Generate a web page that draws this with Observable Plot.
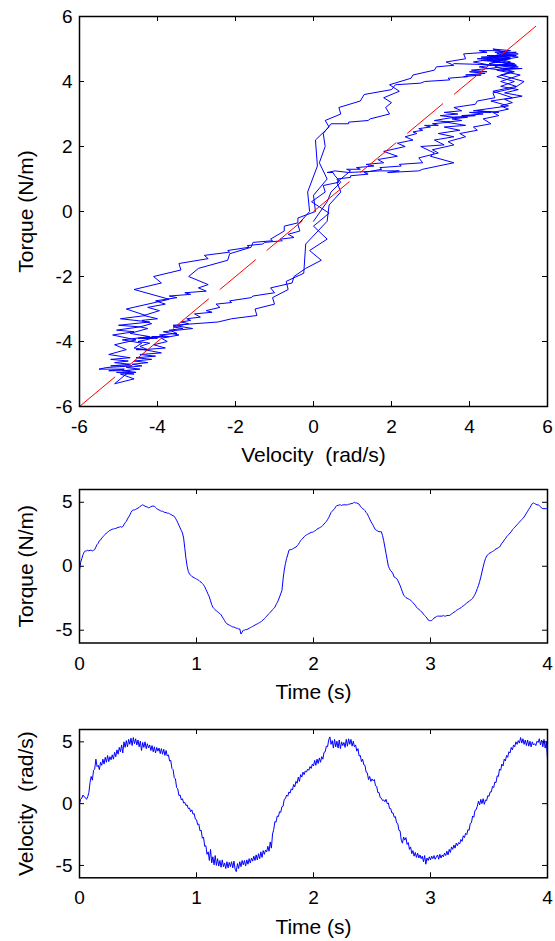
<!DOCTYPE html>
<html><head><meta charset="utf-8">
<script src="https://cdn.jsdelivr.net/npm/d3@7"></script>
<script src="https://cdn.jsdelivr.net/npm/@observablehq/plot@0.6"></script>
<style>
html,body{margin:0;padding:0;background:#fff;}
#chart{width:555px;}
#chart svg{display:block;}
</style></head><body><div id="chart"></div>
<script>
// Sampling step of the recorded series (s)
const timeStep = 0.01;

// Torque (N/m), one value every 0.01 s from 0 to 4 s
const torque = [
 -0.3, 0.3, 0.6, 0.9, 1.1, 1.2, 1.2, 1.25, 1.2, 1.25,
 1.25, 1.2, 1.25, 1.3, 1.5, 1.7, 1.8, 2.0, 2.05, 2.2,
 2.3, 2.4, 2.5, 2.6, 2.65, 2.75, 2.8, 2.85, 2.9, 2.9,
 2.95, 2.95, 3.0, 3.05, 3.05, 3.1, 3.05, 3.1, 3.25, 3.4,
 3.5, 3.7, 3.85, 4.0, 4.2, 4.35, 4.4, 4.4, 4.45, 4.5,
 4.55, 4.6, 4.7, 4.75, 4.8, 4.75, 4.7, 4.65, 4.65, 4.55,
 4.6, 4.65, 4.7, 4.7, 4.7, 4.6, 4.5, 4.45, 4.4, 4.35,
 4.3, 4.3, 4.25, 4.2, 4.2, 4.15, 4.15, 4.1, 4.05, 4.0,
 3.95, 3.9, 3.75, 3.6, 3.4, 3.2, 3.0, 2.8, 2.6, 2.2,
 1.4, 0.6, 0.0, -0.4, -0.6, -0.7, -0.8, -0.85, -0.9, -0.95,
 -1.0, -1.05, -1.1, -1.2, -1.25, -1.35, -1.45, -1.6, -1.8, -2.0,
 -2.2, -2.4, -2.7, -3.0, -3.2, -3.3, -3.4, -3.5, -3.55, -3.65,
 -3.7, -3.8, -3.95, -4.1, -4.25, -4.4, -4.5, -4.55, -4.6, -4.65,
 -4.7, -4.75, -4.75, -4.8, -4.85, -4.85, -4.9, -4.9, -5.3, -5.15,
 -5.0, -5.0, -4.95, -4.95, -4.9, -4.85, -4.8, -4.75, -4.7, -4.65,
 -4.6, -4.55, -4.5, -4.45, -4.4, -4.35, -4.25, -4.2, -4.1, -4.0,
 -3.9, -3.8, -3.7, -3.6, -3.5, -3.4, -3.3, -3.2, -3.0, -2.85,
 -2.65, -2.4, -2.15, -1.9, -1.0, -0.3, 0.2, 0.6, 0.9, 1.25,
 1.3, 1.3, 1.35, 1.4, 1.45, 1.5, 1.6, 1.7, 1.85, 2.0,
 2.1, 2.2, 2.3, 2.4, 2.45, 2.5, 2.55, 2.6, 2.65, 2.65,
 2.7, 2.75, 2.8, 2.9, 2.95, 3.0, 3.05, 3.1, 3.2, 3.3,
 3.4, 3.5, 3.65, 3.8, 4.0, 4.2, 4.3, 4.4, 4.5, 4.65,
 4.75, 4.75, 4.8, 4.8, 4.75, 4.8, 4.8, 4.8, 4.8, 4.8,
 4.85, 4.85, 4.9, 4.9, 4.95, 5.0, 4.95, 4.95, 4.9, 4.85,
 4.7, 4.6, 4.5, 4.45, 4.35, 4.2, 4.1, 3.9, 3.7, 3.5,
 3.35, 3.2, 3.0, 2.85, 2.8, 2.75, 2.7, 2.7, 2.7, 2.4,
 2.0, 1.5, 1.0, 0.5, 0.0, -0.2, -0.35, -0.45, -0.6, -0.85,
 -0.9, -0.95, -1.1, -1.3, -1.5, -1.75, -2.0, -2.25, -2.35, -2.45,
 -2.5, -2.55, -2.6, -2.65, -2.75, -2.85, -2.95, -3.05, -3.2, -3.3,
 -3.35, -3.45, -3.55, -3.6, -3.75, -3.85, -3.95, -4.05, -4.2, -4.25,
 -4.25, -4.25, -4.15, -4.05, -4.0, -3.95, -3.9, -3.9, -3.9, -3.9,
 -3.9, -3.85, -3.9, -3.9, -3.85, -3.85, -3.85, -3.8, -3.75, -3.65,
 -3.6, -3.55, -3.45, -3.4, -3.35, -3.3, -3.25, -3.15, -3.1, -3.05,
 -2.95, -2.85, -2.8, -2.75, -2.65, -2.6, -2.5, -2.35, -2.2, -2.0,
 -1.75, -1.5, -1.2, -0.85, -0.45, -0.05, 0.3, 0.6, 0.8, 0.9,
 1.0, 1.05, 1.1, 1.15, 1.2, 1.3, 1.35, 1.4, 1.45, 1.5,
 1.65, 1.8, 1.9, 2.05, 2.15, 2.3, 2.4, 2.5, 2.6, 2.7,
 2.85, 2.95, 3.05, 3.15, 3.25, 3.35, 3.45, 3.55, 3.65, 3.75,
 3.85, 4.0, 4.15, 4.3, 4.45, 4.6, 4.75, 4.9, 4.95, 4.9,
 4.85, 4.8, 4.8, 4.75, 4.65, 4.55, 4.5, 4.5, 4.5, 4.5,
 4.55
];

// Velocity (rad/s), one value every 0.01 s from 0 to 4 s (noisy measurement)
const velocity = [
 0.0, 0.35, 0.45, 0.7, 0.55, 0.5, 0.35, 0.55, 0.9, 1.7,
 2.2, 1.9, 2.7, 2.8, 3.6, 3.0, 3.1, 2.75, 3.35, 3.1,
 3.6, 3.2, 3.75, 3.35, 3.9, 3.4, 3.8, 3.55, 3.95, 3.6,
 4.15, 3.8, 4.35, 4.0, 4.55, 4.2, 4.75, 4.1, 5.0, 4.55,
 5.1, 4.6, 5.2, 4.8, 5.3, 4.7, 5.35, 4.85, 5.25, 4.75,
 5.15, 4.6, 5.05, 4.3, 4.95, 4.55, 5.0, 4.45, 4.85, 4.5,
 4.75, 4.3, 4.7, 4.2, 4.6, 4.1, 4.55, 4.25, 4.5, 4.05,
 4.45, 4.0, 4.4, 3.9, 4.3, 3.85, 3.95, 3.45, 3.5, 2.85,
 2.75, 2.1, 2.0, 1.3, 1.2, 0.65, 0.7, 0.3, 0.4, 0.05,
 0.1, -0.15, -0.1, -0.4, -0.35, -0.65, -0.5, -0.85, -0.8, -1.25,
 -1.3, -1.7, -1.65, -2.2, -2.15, -2.8, -2.7, -3.45, -3.4, -4.1,
 -3.9, -4.6, -3.7, -4.8, -4.3, -4.95, -4.2, -5.0, -4.45, -5.05,
 -4.6, -5.15, -4.55, -5.1, -4.8, -5.25, -4.7, -5.2, -4.75, -5.1,
 -4.7, -5.2, -4.65, -5.3, -5.5, -4.85, -5.25, -4.7, -5.1, -4.6,
 -4.95, -4.6, -5.05, -4.55, -4.9, -4.45, -4.8, -4.4, -4.65, -4.25,
 -4.6, -4.15, -4.55, -4.05, -4.45, -3.9, -4.35, -3.8, -4.1, -3.75,
 -3.9, -3.45, -3.85, -3.1, -3.6, -2.45, -2.1, -1.45, -1.5, -1.0,
 -1.05, -0.65, -0.7, -0.25, -0.2, 0.35, 0.4, 0.7, 0.6, 0.95,
 0.85, 1.2, 1.1, 1.55, 1.35, 1.8, 1.65, 2.15, 1.8, 2.35,
 2.15, 2.55, 2.35, 2.65, 2.55, 2.8, 2.7, 3.0, 2.85, 3.2,
 3.05, 3.5, 3.1, 3.6, 3.25, 3.7, 3.35, 3.8, 3.6, 4.15,
 4.2, 4.65, 4.6, 5.15, 5.4, 4.8, 5.1, 4.5, 5.2, 4.6,
 5.05, 4.5, 5.15, 4.45, 5.0, 4.7, 4.95, 4.55, 5.2, 4.65,
 5.25, 4.8, 5.2, 4.65, 5.05, 4.6, 4.75, 4.25, 4.45, 3.85,
 3.9, 3.4, 3.6, 3.15, 3.1, 2.55, 2.5, 1.95, 2.2, 1.8,
 2.0, 1.85, 1.95, 1.45, 1.4, 0.9, 0.9, 0.5, 0.45, 0.25,
 0.3, 0.15, 0.35, 0.0, 0.05, -0.4, -0.4, -0.75, -0.75, -1.1,
 -1.05, -1.55, -1.6, -2.15, -2.2, -2.95, -3.2, -2.7, -2.95, -2.75,
 -3.3, -3.15, -3.7, -3.5, -4.05, -3.8, -4.25, -3.95, -4.35, -4.0,
 -4.4, -4.15, -4.45, -4.25, -4.7, -4.2, -4.9, -4.4, -4.6, -4.3,
 -4.55, -4.25, -4.45, -4.2, -4.5, -4.3, -4.15, -4.5, -4.1, -4.4,
 -4.15, -4.3, -4.0, -4.2, -3.85, -4.15, -3.7, -3.95, -3.5, -3.7,
 -3.35, -3.6, -3.2, -3.4, -3.15, -3.25, -2.9, -3.05, -2.6, -2.75,
 -2.4, -2.5, -2.1, -2.15, -1.6, -1.55, -1.0, -1.1, -0.55, -0.5,
 -0.2, 0.2, -0.1, 0.35, 0.0, 0.4, -0.05, 0.3, 0.25, 0.65,
 0.6, 0.95, 0.95, 1.4, 1.3, 1.75, 1.7, 2.25, 2.2, 2.8,
 2.7, 3.2, 3.05, 3.6, 3.45, 3.9, 3.75, 4.2, 4.1, 4.55,
 4.35, 4.75, 4.6, 5.0, 4.8, 5.1, 4.9, 5.35, 4.9, 5.25,
 4.8, 5.15, 4.7, 5.15, 4.65, 5.05, 4.6, 5.0, 4.75, 4.85,
 4.7, 5.05, 4.95, 5.25, 4.75, 5.15, 4.6, 5.2, 4.5, 5.0,
 3.6
];

// Red dashed reference line (velocity, torque end points)
const fitVelocity = [-6, 5.7];
const fitTorque = [-6, 5.7];

// Axis ticks
const phaseTicks = [-6, -4, -2, 0, 2, 4, 6];
const timeTicks = [0, 1, 2, 3, 4];
const seriesTicks = [-5, 0, 5];

const time = torque.map((_, i) => +(i * timeStep).toFixed(2));
const idx = d3.range(torque.length);

const BLUE = "#0000ff", RED = "#ff0000";
const FONT = "'Liberation Sans', Arial, Helvetica, sans-serif";

function panel({height, mt, mb, xDomain, yDomain, xTicks, yTicks, xLabel, yLabel, marks}) {
  const W = 555, ml = 79, mr = 8;
  const iw = W - ml - mr, ih = height - mt - mb, tk = 5;
  return Plot.plot({
    width: W, height,
    marginLeft: ml, marginRight: mr, marginTop: mt, marginBottom: mb,
    style: {fontFamily: FONT, fontSize: "19px", color: "#000", background: "#fff", overflow: "visible"},
    x: {domain: xDomain},
    y: {domain: yDomain},
    marks: [
      ...marks,
      Plot.tickX(xTicks, {x: d => d, insetTop: ih - tk, stroke: "#000", strokeWidth: 1}),
      Plot.tickX(xTicks, {x: d => d, insetBottom: ih - tk, stroke: "#000", strokeWidth: 1}),
      Plot.tickY(yTicks, {y: d => d, insetRight: iw - tk, stroke: "#000", strokeWidth: 1}),
      Plot.tickY(yTicks, {y: d => d, insetLeft: iw - tk, stroke: "#000", strokeWidth: 1}),
      Plot.frame({stroke: "#000", strokeWidth: 1.5}),
      Plot.axisX(xTicks, {tickSize: 0, tickPadding: 13, label: null, fontSize: 19, tickFormat: d => String(d)}),
      Plot.axisY(yTicks, {tickSize: 0, tickPadding: 7, label: null, fontSize: 19, tickFormat: d => String(d)}),
      Plot.text([xLabel], {text: d => d, frameAnchor: "bottom", lineAnchor: "middle", textAnchor: "middle", dy: 49, fontSize: 21, fill: "#000"}),
      Plot.text([yLabel], {text: d => d, frameAnchor: "left", lineAnchor: "middle", textAnchor: "middle", rotate: -90, dx: -53, fontSize: 21, fill: "#000"})
    ]
  });
}

const chart = document.getElementById("chart");

chart.append(panel({
  height: 470, mt: 16, mb: 64,
  xDomain: [-6, 6], yDomain: [-6, 6],
  xTicks: phaseTicks, yTicks: phaseTicks,
  xLabel: "Velocity  (rad/s)", yLabel: "Torque (N/m)",
  marks: [
    Plot.line(idx, {x: i => velocity[i], y: i => torque[i], stroke: BLUE, strokeWidth: 1}),
    Plot.line([0, 1], {x: i => fitVelocity[i], y: i => fitTorque[i], stroke: RED, strokeWidth: 1, strokeDasharray: "46,15"})
  ]
}));

chart.append(panel({
  height: 238, mt: 19, mb: 65.5,
  xDomain: [0, 4], yDomain: [-6, 6],
  xTicks: timeTicks, yTicks: seriesTicks,
  xLabel: "Time (s)", yLabel: "Torque (N/m)",
  marks: [
    Plot.line(idx, {x: i => time[i], y: i => torque[i], stroke: BLUE, strokeWidth: 1})
  ]
}));

chart.append(panel({
  height: 233, mt: 21, mb: 63.7,
  xDomain: [0, 4], yDomain: [-6, 6],
  xTicks: timeTicks, yTicks: seriesTicks,
  xLabel: "Time (s)", yLabel: "Velocity  (rad/s)",
  marks: [
    Plot.line(idx, {x: i => time[i], y: i => velocity[i], stroke: BLUE, strokeWidth: 1})
  ]
}));
</script></body></html>
